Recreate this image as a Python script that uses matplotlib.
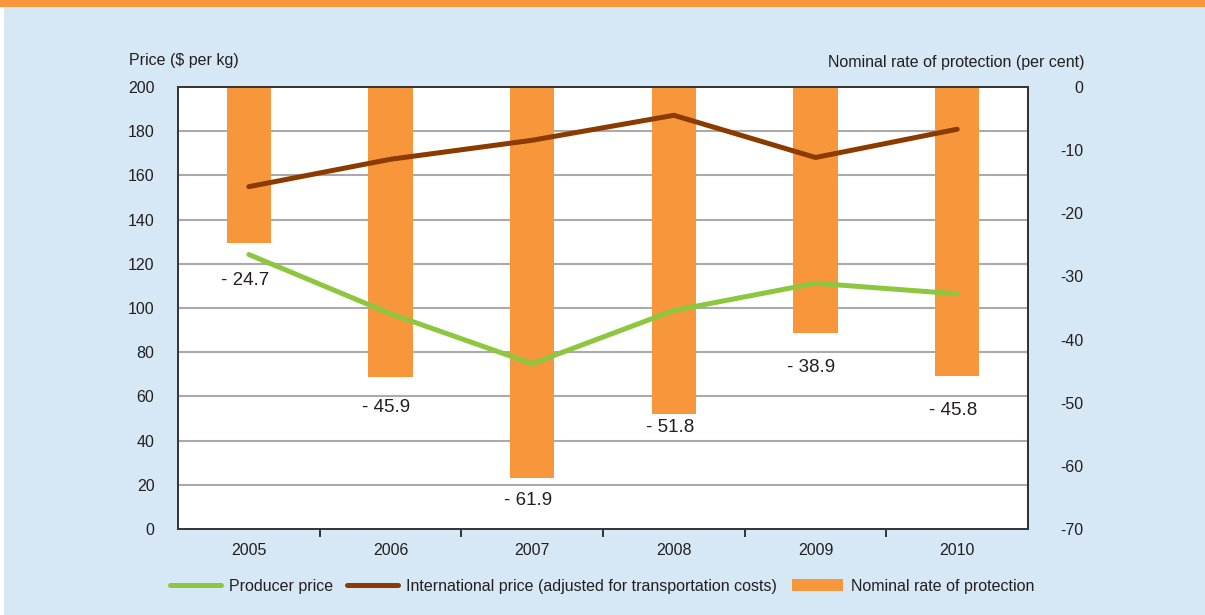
import matplotlib
matplotlib.use("Agg")
import matplotlib.pyplot as plt
from matplotlib import font_manager
from matplotlib.lines import Line2D
from matplotlib.patches import Patch, Rectangle

# ---------------- data ----------------
years = ["2005", "2006", "2007", "2008", "2009", "2010"]
producer_price = [124.2, 97.4, 74.8, 98.9, 111.2, 106.4]
international_price = [154.9, 167.3, 175.9, 187.2, 168.1, 180.9]
protection_rate = [-24.7, -45.9, -61.9, -51.8, -38.9, -45.8]
price_ticks = [0, 20, 40, 60, 80, 100, 120, 140, 160, 180, 200]
rate_ticks = [0, -10, -20, -30, -40, -50, -60, -70]

# label placement (points below bar end) - style only
label_offsets = [27, 22, 16, 10, 25, 25]

# ---------------- style ----------------
installed = {f.name for f in font_manager.fontManager.ttflist}
MAIN = 'Liberation Sans' if 'Liberation Sans' in installed else 'DejaVu Sans'
FONT = [MAIN, 'DejaVu Sans']
plt.rcParams['font.family'] = FONT
TXT = '#231f20'
BG = '#d6e7f5'
ORANGE = '#f7963a'
GREEN = '#8dc63f'
BROWN = '#8b3b00'
GRID = '#aaaaaa'
SPINE = '#333333'
FS = 11.5

W, H = 1205, 615
fig = plt.figure(figsize=(W / 100, H / 100), dpi=100, facecolor='white')
fig.patches.append(Rectangle((4 / W, 0), 1 - 4 / W, 1 - 7 / H, transform=fig.transFigure,
                             facecolor=BG, edgecolor='none', zorder=-10))
fig.patches.append(Rectangle((0, 1 - 7 / H), 1, 7 / H, transform=fig.transFigure,
                             facecolor=ORANGE, edgecolor='none', zorder=-10))

left, right, bottom, top = 178 / W, 1028 / W, 1 - 529 / H, 1 - 87 / H
ax = fig.add_axes([left, bottom, right - left, top - bottom])
ax2 = ax.twinx()

x = list(range(len(years)))

# bars on the right axis (drawn below the lines)
ax2.set_zorder(0)
ax.set_zorder(1)
ax.patch.set_visible(False)
ax2.patch.set_visible(True)
ax2.patch.set_facecolor('white')

# gridlines (price scale) drawn beneath bars
ax2.hlines(price_ticks[1:-1], -0.5, 5.5, transform=ax.transData, colors=GRID,
           linewidth=1.5, zorder=0)

ax2.bar(x, protection_rate, width=0.315, color=ORANGE, zorder=2)
for xi, v, off in zip(x, protection_rate, label_offsets):
    ax2.annotate(f"- {abs(v):.1f}", (xi, v), xytext=(-3, -off), textcoords='offset points',
                 ha='center', va='center', fontsize=13.5, color=TXT)

ax2.set_ylim(-70, 0)
ax2.set_yticks(rate_ticks)
ax2.set_yticklabels([str(t) for t in rate_ticks])
ax2.tick_params(axis='y', length=0, pad=40, labelsize=FS, labelcolor=TXT)
for lab in ax2.get_yticklabels():
    lab.set_horizontalalignment('right')

# lines on left axis
ax.plot(x, producer_price, color=GREEN, linewidth=3.6, solid_capstyle='round', zorder=3)
ax.plot(x, international_price, color=BROWN, linewidth=3.6, solid_capstyle='round', zorder=3)
ax.set_ylim(0, 200)
ax.set_xlim(-0.5, len(years) - 0.5)
ax.set_yticks(price_ticks)
ax.tick_params(axis='y', length=0, pad=17, labelsize=FS, labelcolor=TXT)
ax.set_xticks(x)
ax.set_xticklabels(years)
ax.set_xticks([i + 0.5 for i in x[:-1]], minor=True)
ax.tick_params(axis='x', which='major', length=0, pad=10, labelsize=FS, labelcolor=TXT)
ax.tick_params(axis='x', which='minor', length=5.5, width=1.4, color=SPINE, direction='out')

for a in (ax, ax2):
    for s in a.spines.values():
        s.set_color(SPINE)
        s.set_linewidth(1.4)
ax2.spines['left'].set_visible(False)
ax2.spines['bottom'].set_visible(False)
ax2.spines['top'].set_visible(False)
ax2.tick_params(axis='x', which='both', length=0, labelbottom=False)

fig.text(129 / W, 1 - 60 / H, "Price ($ per kg)", ha='left', va='center', fontsize=FS, color=TXT)
fig.text(1085 / W, 1 - 62 / H, "Nominal rate of protection (per cent)", ha='right', va='center',
         fontsize=FS, color=TXT)

handles = [
    Line2D([], [], color=GREEN, linewidth=3.6, solid_capstyle='round'),
    Line2D([], [], color=BROWN, linewidth=3.6, solid_capstyle='round'),
    Patch(facecolor=ORANGE, edgecolor='none'),
]
labels = ["Producer price", "International price (adjusted for transportation costs)",
          "Nominal rate of protection"]
fig.legend(handles, labels, loc='center', bbox_to_anchor=(602 / W, 1 - 586 / H), ncol=3,
           frameon=False, fontsize=FS, handlelength=3.2, handleheight=0.8, handletextpad=0.5,
           columnspacing=0.9, labelcolor=TXT)

fig.savefig("out.png", dpi=100, facecolor=fig.get_facecolor())
